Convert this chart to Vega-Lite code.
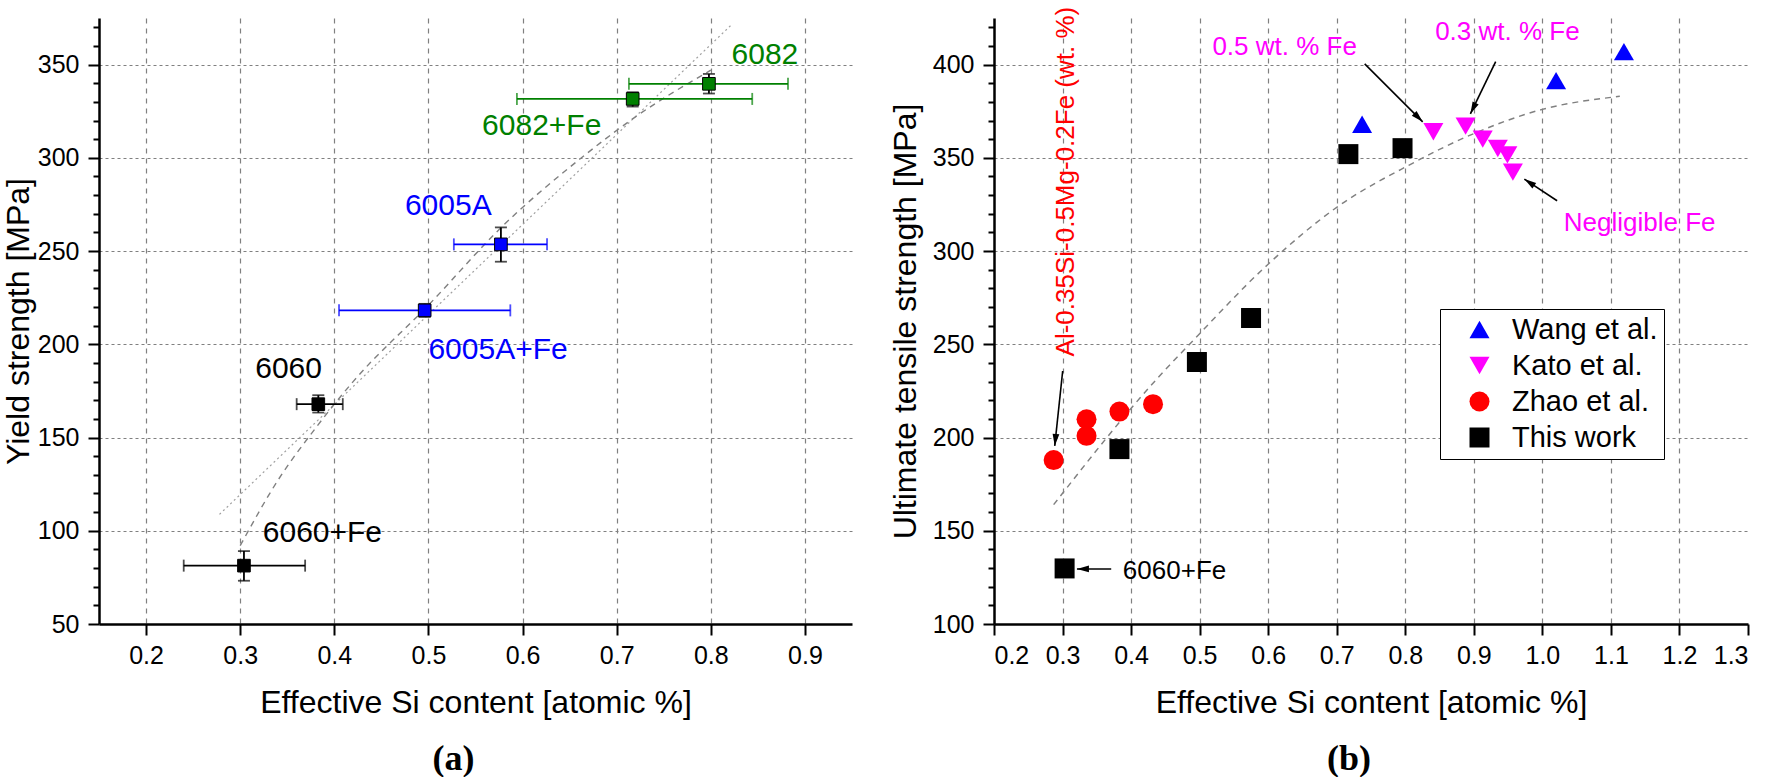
{
  "$schema": "https://vega.github.io/schema/vega-lite/v6.json",
  "background": "white",
  "padding": {"left": 2, "top": 6, "right": 5, "bottom": 0},
  "bounds": "flush",
  "spacing": 142,
  "config": {
    "view": {"stroke": null},
    "font": "Liberation Sans",
    "axis": {
      "domainColor": "black", "domainWidth": 2.5,
      "tickColor": "black", "tickWidth": 2,
      "labelFont": "Liberation Sans", "labelFontSize": 25, "labelColor": "black", "labelOverlap": false,
      "titleFont": "Liberation Sans", "titleFontSize": 32, "titleFontWeight": "normal", "titleColor": "black",
      "gridColor": "#808080", "gridWidth": 1.2
    },
    "axisX": {"gridDash": [5, 5], "labelPadding": 8, "titlePadding": 19},
    "axisY": {"gridDash": [3, 3], "labelPadding": 9, "titlePadding": 2}
  },
  "datasets": {
    "linfitA": [
      {"si": 0.278, "ys": 108.8},
      {"si": 0.821, "ys": 370.9}
    ],
    "logfitA": [
      {"si": 0.30, "ys": 92}, {"si": 0.34, "ys": 127}, {"si": 0.38, "ys": 155},
      {"si": 0.42, "ys": 180}, {"si": 0.50, "ys": 221}, {"si": 0.58, "ys": 264},
      {"si": 0.66, "ys": 299}, {"si": 0.72, "ys": 322}, {"si": 0.80, "ys": 347}
    ],
    "alloys": [
      {"alloy": "6082", "family": "6082", "si": 0.798, "ys": 339.7, "si_lo": 0.713, "si_hi": 0.882, "ys_lo": 334.5, "ys_hi": 345.0},
      {"alloy": "6082+Fe", "family": "6082", "si": 0.717, "ys": 331.6, "si_lo": 0.594, "si_hi": 0.844, "ys_lo": 327.5, "ys_hi": 335.2},
      {"alloy": "6005A", "family": "6005A", "si": 0.577, "ys": 253.6, "si_lo": 0.527, "si_hi": 0.626, "ys_lo": 244.3, "ys_hi": 262.7},
      {"alloy": "6005A+Fe", "family": "6005A", "si": 0.496, "ys": 218.2, "si_lo": 0.405, "si_hi": 0.587, "ys_lo": 214.7, "ys_hi": 221.7},
      {"alloy": "6060", "family": "6060", "si": 0.383, "ys": 167.9, "si_lo": 0.360, "si_hi": 0.409, "ys_lo": 163.4, "ys_hi": 172.7},
      {"alloy": "6060+Fe", "family": "6060", "si": 0.304, "ys": 81.3, "si_lo": 0.240, "si_hi": 0.369, "ys_lo": 73.2, "ys_hi": 89.1}
    ],
    "alloyLabels": [
      {"label": "6082", "family": "6082", "si": 0.822, "ys": 355.4},
      {"label": "6082+Fe", "family": "6082", "si": 0.557, "ys": 317},
      {"label": "6005A", "family": "6005A", "si": 0.475, "ys": 274},
      {"label": "6005A+Fe", "family": "6005A", "si": 0.500, "ys": 197},
      {"label": "6060", "family": "6060", "si": 0.316, "ys": 187},
      {"label": "6060+Fe", "family": "6060", "si": 0.324, "ys": 99}
    ],
    "fitB": [
      {"si": 0.287, "uts": 164}, {"si": 0.438, "uts": 231.6}, {"si": 0.493, "uts": 253},
      {"si": 0.598, "uts": 292.3}, {"si": 0.704, "uts": 324.5}, {"si": 0.805, "uts": 346},
      {"si": 0.9, "uts": 363}, {"si": 1.0, "uts": 376}, {"si": 1.113, "uts": 383}
    ],
    "uts": [
      {"series": "Wang et al.", "si": 0.737, "uts": 368},
      {"series": "Wang et al.", "si": 1.020, "uts": 391.4},
      {"series": "Wang et al.", "si": 1.119, "uts": 407},
      {"series": "Kato et al.", "si": 0.841, "uts": 364},
      {"series": "Kato et al.", "si": 0.888, "uts": 367},
      {"series": "Kato et al.", "si": 0.913, "uts": 360},
      {"series": "Kato et al.", "si": 0.935, "uts": 355},
      {"series": "Kato et al.", "si": 0.949, "uts": 351.6},
      {"series": "Kato et al.", "si": 0.957, "uts": 342.3},
      {"series": "Zhao et al.", "si": 0.287, "uts": 187.9},
      {"series": "Zhao et al.", "si": 0.335, "uts": 200.9},
      {"series": "Zhao et al.", "si": 0.335, "uts": 209.8},
      {"series": "Zhao et al.", "si": 0.383, "uts": 213.9},
      {"series": "Zhao et al.", "si": 0.432, "uts": 217.9},
      {"series": "This work", "si": 0.303, "uts": 129.8},
      {"series": "This work", "si": 0.383, "uts": 193.8},
      {"series": "This work", "si": 0.496, "uts": 240.5},
      {"series": "This work", "si": 0.575, "uts": 264.1},
      {"series": "This work", "si": 0.717, "uts": 352},
      {"series": "This work", "si": 0.796, "uts": 355.2}
    ],
    "arrows": [
      {"note": "Al-0.35Si-0.5Mg-0.2Fe", "si": 0.3002, "uts": 235.7, "si_end": 0.2886, "uts_end": 195.5, "heading": 186},
      {"note": "0.5 wt. % Fe", "si": 0.7408, "uts": 400.4, "si_end": 0.8254, "uts_end": 369.3, "heading": 135},
      {"note": "0.3 wt. % Fe", "si": 0.9319, "uts": 401.6, "si_end": 0.895, "uts_end": 373.6, "heading": 206},
      {"note": "Negligible Fe", "si": 1.0215, "uts": 327, "si_end": 0.9737, "uts_end": 338.6, "heading": 304},
      {"note": "6060+Fe", "si": 0.371, "uts": 129.5, "si_end": 0.321, "uts_end": 129.5, "heading": 270}
    ],
    "katoNotes": [
      {"note": "0.5 wt. % Fe", "si": 0.624, "uts": 409.3},
      {"note": "0.3 wt. % Fe", "si": 0.949, "uts": 417.5},
      {"note": "Negligible Fe", "si": 1.142, "uts": 315}
    ],
    "zhaoNote": [
      {"note": "Al-0.35Si-0.5Mg-0.2Fe (wt. %)", "si": 0.3046, "uts": 243.5}
    ],
    "feNote": [
      {"note": "6060+Fe", "si": 0.388, "uts": 128.6}
    ]
  },
  "resolve": {"scale": {"x": "independent", "y": "independent", "color": "independent", "shape": "independent", "size": "independent"}},
  "hconcat": [
    {
      "width": 753,
      "height": 606,
      "title": {"text": "(a)", "orient": "bottom", "font": "Liberation Serif", "fontSize": 36, "fontWeight": "bold", "color": "black", "offset": 24, "dx": -22},
      "layer": [
        {
          "data": {"name": "linfitA"},
          "mark": {"type": "line", "color": "#a0a0a0", "strokeWidth": 1.2, "strokeDash": [2, 3]},
          "encoding": {
            "x": {
              "field": "si", "type": "quantitative", "title": "Effective Si content [atomic %]",
              "scale": {"domain": [0.15, 0.95], "nice": false, "zero": false},
              "axis": {"values": [0.2, 0.3, 0.4, 0.5, 0.6, 0.7, 0.8, 0.9], "tickCount": 50, "format": ".1f", "tickSize": 11, "grid": true}
            },
            "y": {
              "field": "ys", "type": "quantitative", "title": "Yield strength [MPa]",
              "scale": {"domain": [50, 375], "nice": false, "zero": false},
              "axis": {
                "values": [50, 60, 70, 80, 90, 100, 110, 120, 130, 140, 150, 160, 170, 180, 190, 200, 210, 220, 230, 240, 250, 260, 270, 280, 290, 300, 310, 320, 330, 340, 350, 360, 370],
                "tickCount": 100,
                "labelExpr": "datum.value % 50 === 0 ? datum.label : ''",
                "tickSize": {"condition": {"test": "datum.value % 50 === 0", "value": 11}, "value": 6},
                "grid": true,
                "gridOpacity": {"condition": {"test": "datum.value % 50 === 0 && datum.value > 50", "value": 1}, "value": 0}
              }
            }
          }
        },
        {
          "data": {"name": "logfitA"},
          "mark": {"type": "line", "color": "#808080", "strokeWidth": 1.4, "strokeDash": [6, 5], "interpolate": "monotone"},
          "encoding": {
            "x": {"field": "si", "type": "quantitative", "title": "Effective Si content [atomic %]", "scale": {"domain": [0.15, 0.95], "nice": false, "zero": false}},
            "y": {"field": "ys", "type": "quantitative", "title": "Yield strength [MPa]", "scale": {"domain": [50, 375], "nice": false, "zero": false}}
          }
        },
        {
          "data": {"name": "alloys"},
          "mark": {"type": "errorbar", "orient": "horizontal", "ticks": true, "size": 12, "thickness": 1.8},
          "encoding": {
            "x": {"field": "si_lo", "type": "quantitative", "title": "Effective Si content [atomic %]", "scale": {"domain": [0.15, 0.95], "nice": false, "zero": false}},
            "x2": {"field": "si_hi"},
            "y": {"field": "ys", "type": "quantitative", "title": "Yield strength [MPa]", "scale": {"domain": [50, 375], "nice": false, "zero": false}},
            "color": {"field": "family", "type": "nominal", "scale": {"domain": ["6082", "6005A", "6060"], "range": ["#008000", "#0000ff", "#000000"]}, "legend": null}
          }
        },
        {
          "data": {"name": "alloys"},
          "mark": {"type": "errorbar", "orient": "vertical", "ticks": true, "size": 12, "thickness": 1.8, "color": "black"},
          "encoding": {
            "x": {"field": "si", "type": "quantitative", "title": "Effective Si content [atomic %]", "scale": {"domain": [0.15, 0.95], "nice": false, "zero": false}},
            "y": {"field": "ys_lo", "type": "quantitative", "title": "Yield strength [MPa]", "scale": {"domain": [50, 375], "nice": false, "zero": false}},
            "y2": {"field": "ys_hi"}
          }
        },
        {
          "data": {"name": "alloys"},
          "mark": {"type": "point", "shape": "square", "filled": true, "size": 160, "opacity": 1, "stroke": "black", "strokeWidth": 1},
          "encoding": {
            "x": {"field": "si", "type": "quantitative", "title": "Effective Si content [atomic %]", "scale": {"domain": [0.15, 0.95], "nice": false, "zero": false}},
            "y": {"field": "ys", "type": "quantitative", "title": "Yield strength [MPa]", "scale": {"domain": [50, 375], "nice": false, "zero": false}},
            "color": {"field": "family", "type": "nominal", "scale": {"domain": ["6082", "6005A", "6060"], "range": ["#008000", "#0000ff", "#000000"]}, "legend": null}
          }
        },
        {
          "data": {"name": "alloyLabels"},
          "mark": {"type": "text", "align": "left", "baseline": "middle", "fontSize": 30, "font": "Liberation Sans"},
          "encoding": {
            "x": {"field": "si", "type": "quantitative", "title": "Effective Si content [atomic %]", "scale": {"domain": [0.15, 0.95], "nice": false, "zero": false}},
            "y": {"field": "ys", "type": "quantitative", "title": "Yield strength [MPa]", "scale": {"domain": [50, 375], "nice": false, "zero": false}},
            "text": {"field": "label"},
            "color": {"field": "family", "type": "nominal", "scale": {"domain": ["6082", "6005A", "6060"], "range": ["#008000", "#0000ff", "#000000"]}, "legend": null}
          }
        }
      ]
    },
    {
      "width": 754,
      "height": 606,
      "title": {"text": "(b)", "orient": "bottom", "font": "Liberation Serif", "fontSize": 36, "fontWeight": "bold", "color": "black", "offset": 24, "dx": -22},
      "layer": [
        {
          "data": {"name": "fitB"},
          "mark": {"type": "line", "color": "#808080", "strokeWidth": 1.45, "strokeDash": [6, 5], "interpolate": "monotone"},
          "encoding": {
            "x": {
              "field": "si", "type": "quantitative", "title": "Effective Si content [atomic %]",
              "scale": {"domain": [0.2, 1.3], "nice": false, "zero": false},
              "axis": {
                "values": [0.2, 0.3, 0.4, 0.5, 0.6, 0.7, 0.8, 0.9, 1.0, 1.1, 1.2, 1.3], "tickCount": 50, "format": ".1f", "tickSize": 11, "grid": true,
                "gridOpacity": {"condition": {"test": "datum.value > 0.25 && datum.value < 1.25", "value": 1}, "value": 0}
              }
            },
            "y": {
              "field": "uts", "type": "quantitative", "title": "Ultimate tensile strength [MPa]",
              "scale": {"domain": [100, 425], "nice": false, "zero": false},
              "axis": {
                "values": [100, 110, 120, 130, 140, 150, 160, 170, 180, 190, 200, 210, 220, 230, 240, 250, 260, 270, 280, 290, 300, 310, 320, 330, 340, 350, 360, 370, 380, 390, 400, 410, 420],
                "tickCount": 100,
                "titlePadding": 10,
                "labelExpr": "datum.value % 50 === 0 ? datum.label : ''",
                "tickSize": {"condition": {"test": "datum.value % 50 === 0", "value": 11}, "value": 6},
                "grid": true,
                "gridOpacity": {"condition": {"test": "datum.value % 50 === 0 && datum.value > 100", "value": 1}, "value": 0}
              }
            }
          }
        },
        {
          "data": {"name": "arrows"},
          "mark": {"type": "rule", "color": "black", "strokeWidth": 1.6},
          "encoding": {
            "x": {"field": "si", "type": "quantitative", "title": "Effective Si content [atomic %]", "scale": {"domain": [0.2, 1.3], "nice": false, "zero": false}},
            "y": {"field": "uts", "type": "quantitative", "title": "Ultimate tensile strength [MPa]", "scale": {"domain": [100, 425], "nice": false, "zero": false}},
            "x2": {"field": "si_end"},
            "y2": {"field": "uts_end"}
          }
        },
        {
          "data": {"name": "arrows"},
          "mark": {"type": "point", "shape": "M0,0L-0.45,1.6L0.45,1.6Z", "filled": true, "size": 225, "color": "black", "opacity": 1},
          "encoding": {
            "x": {"field": "si_end", "type": "quantitative", "title": "Effective Si content [atomic %]", "scale": {"domain": [0.2, 1.3], "nice": false, "zero": false}},
            "y": {"field": "uts_end", "type": "quantitative", "title": "Ultimate tensile strength [MPa]", "scale": {"domain": [100, 425], "nice": false, "zero": false}},
            "angle": {"field": "heading", "type": "quantitative", "scale": null}
          }
        },
        {
          "data": {"name": "uts"},
          "mark": {"type": "point", "filled": true, "opacity": 1},
          "encoding": {
            "x": {"field": "si", "type": "quantitative", "title": "Effective Si content [atomic %]", "scale": {"domain": [0.2, 1.3], "nice": false, "zero": false}},
            "y": {"field": "uts", "type": "quantitative", "title": "Ultimate tensile strength [MPa]", "scale": {"domain": [100, 425], "nice": false, "zero": false}},
            "color": {
              "field": "series", "type": "nominal",
              "scale": {"domain": ["Wang et al.", "Kato et al.", "Zhao et al.", "This work"], "range": ["#0000ff", "#ff00ff", "#ff0000", "#000000"]},
              "legend": {
                "orient": "none", "legendX": 446, "legendY": 291, "title": null,
                "strokeColor": "black", "fillColor": "white", "padding": 6,
                "labelFont": "Liberation Sans", "labelFontSize": 29, "labelColor": "black",
                "rowPadding": 6, "symbolOffset": 19, "labelOffset": 18, "symbolOpacity": 1, "symbolStrokeWidth": 0
              }
            },
            "shape": {"field": "series", "type": "nominal", "scale": {"domain": ["Wang et al.", "Kato et al.", "Zhao et al.", "This work"], "range": ["triangle-up", "triangle-down", "circle", "square"]}},
            "size": {"field": "series", "type": "nominal", "scale": {"domain": ["Wang et al.", "Kato et al.", "Zhao et al.", "This work"], "range": [400, 400, 200, 180]}}
          }
        },
        {
          "data": {"name": "katoNotes"},
          "mark": {"type": "text", "align": "center", "baseline": "middle", "fontSize": 26, "font": "Liberation Sans", "color": "#ff00ff"},
          "encoding": {
            "x": {"field": "si", "type": "quantitative", "title": "Effective Si content [atomic %]", "scale": {"domain": [0.2, 1.3], "nice": false, "zero": false}},
            "y": {"field": "uts", "type": "quantitative", "title": "Ultimate tensile strength [MPa]", "scale": {"domain": [100, 425], "nice": false, "zero": false}},
            "text": {"field": "note"}
          }
        },
        {
          "data": {"name": "zhaoNote"},
          "mark": {"type": "text", "align": "left", "baseline": "middle", "angle": 270, "fontSize": 26, "font": "Liberation Sans", "color": "#ff0000"},
          "encoding": {
            "x": {"field": "si", "type": "quantitative", "title": "Effective Si content [atomic %]", "scale": {"domain": [0.2, 1.3], "nice": false, "zero": false}},
            "y": {"field": "uts", "type": "quantitative", "title": "Ultimate tensile strength [MPa]", "scale": {"domain": [100, 425], "nice": false, "zero": false}},
            "text": {"field": "note"}
          }
        },
        {
          "data": {"name": "feNote"},
          "mark": {"type": "text", "align": "left", "baseline": "middle", "fontSize": 26, "font": "Liberation Sans", "color": "black"},
          "encoding": {
            "x": {"field": "si", "type": "quantitative", "title": "Effective Si content [atomic %]", "scale": {"domain": [0.2, 1.3], "nice": false, "zero": false}},
            "y": {"field": "uts", "type": "quantitative", "title": "Ultimate tensile strength [MPa]", "scale": {"domain": [100, 425], "nice": false, "zero": false}},
            "text": {"field": "note"}
          }
        }
      ]
    }
  ]
}
